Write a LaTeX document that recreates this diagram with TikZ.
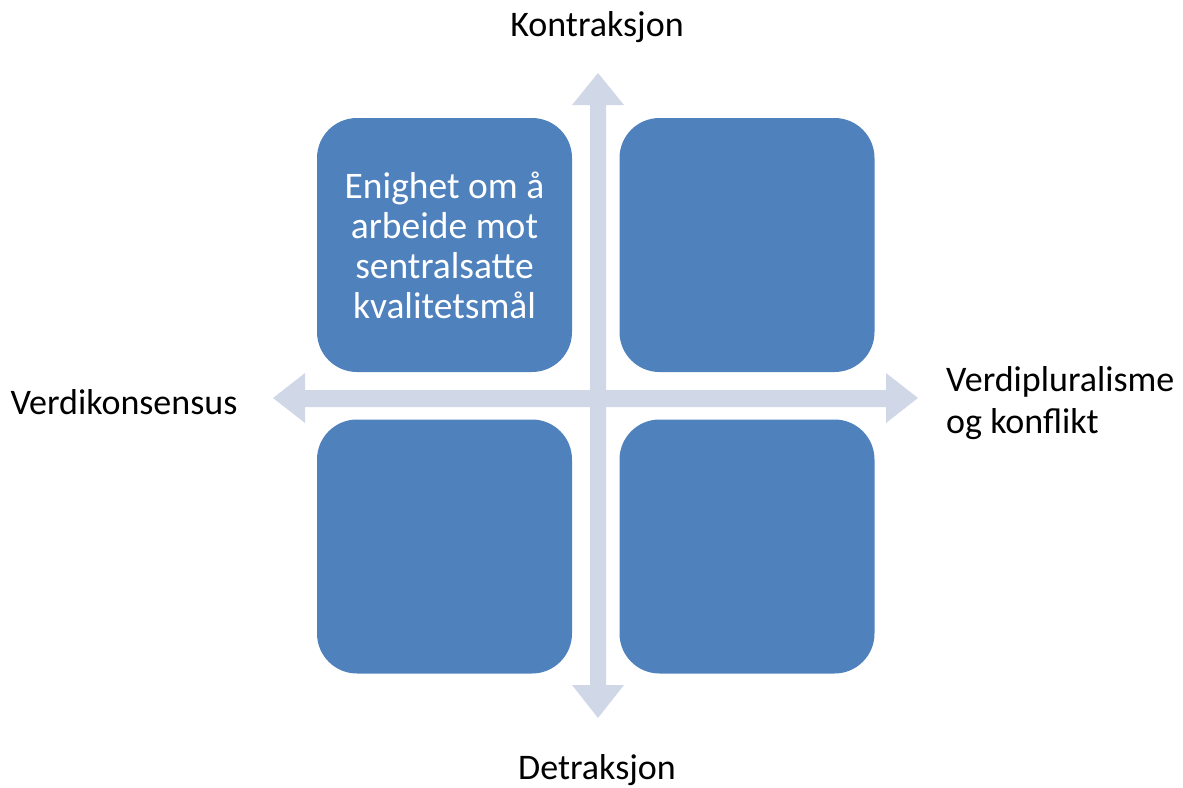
\documentclass[tikz,border=0pt]{standalone}
\usepackage{fontspec}
\setmainfont{Carlito}
\definecolor{boxblue}{HTML}{4F81BD}
\definecolor{axisgray}{HTML}{D0D8E8}
\tikzset{
  quad/.style={fill=boxblue, draw=none, rounded corners=40pt, minimum width=255pt, minimum height=254pt, inner sep=0pt},
  axis/.style={fill=axisgray, draw=none},
  lbl/.style={font=\fontsize{36}{42}\selectfont, text=black, inner sep=0pt},
  boxtext/.style={font=\fontsize{37.5}{40}\selectfont, text=white, align=center, inner sep=0pt}
}
\begin{document}
\begin{tikzpicture}[x=1pt,y=-1pt]
\useasboundingbox (0,0) rectangle (1183,787);
% axes
\fill[axis] (590,105) -- (572,105) -- (598,73) -- (624,105) -- (606,105) -- (606,685) -- (624,685) -- (598,718) -- (572,685) -- (590,685) -- cycle;
\fill[axis] (305,390) -- (305,373) -- (273,398) -- (305,423) -- (305,407) -- (886,407) -- (886,423) -- (918,398) -- (886,373) -- (886,390) -- cycle;
% boxes
\node[quad] (tl) at (444.5,245) {};
\node[quad] (tr) at (747,245) {};
\node[quad] (bl) at (444.5,546.5) {};
\node[quad] (br) at (747,546.5) {};
\node[boxtext] (tltext) at (tl.center) {Enighet om å\\arbeide mot\\sentralsatte\\kvalitetsmål};
% labels
\node[lbl] (top) at (597,27) {Kontraksjon};
\node[lbl] (bottom) at (597,770) {Detraksjon};
\node[lbl] (left) at (124,402) {Verdikonsensus};
\node[lbl, anchor=west, align=left] (right) at (946,403) {Verdipluralisme\\og konflikt};
\end{tikzpicture}
\end{document}
